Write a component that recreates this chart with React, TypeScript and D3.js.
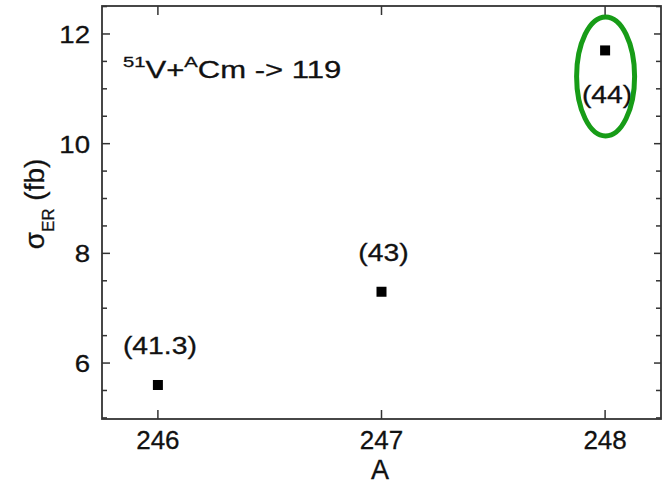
import React from "react";
import * as d3 from "d3";

// values
const massNumbers = [246, 247, 248];
const crossSections = [5.6, 7.3, 11.7];
const energyLabels = ["(41.3)", "(43)", "(44)"];
const labelSide = ["above", "above", "below"];
const xTicks = [246, 247, 248];
const yTicks = [6, 8, 10, 12];

const width = 666;
const height = 485;
const left = 102;
const right = 661;
const top = 6;
const bottom = 419;
const font = "'Liberation Sans', Arial, Helvetica, sans-serif";
const frameColor = "#333";
const ink = "#111";

const x = d3.scaleLinear().domain([245.75, 248.25]).range([left, right]);
const y = d3.scaleLinear().domain([4.98, 12.51]).range([bottom, top]);

const minorY = d3.range(5, 12.51, 0.5).filter((v) => !yTicks.includes(v));

const App = () => {
  return (
    <svg
      width={width}
      height={height}
      style={{ position: "absolute", left: 0, top: 0, background: "#fff" }}
      fontFamily={font}
    >
      <rect x={0} y={0} width={width} height={height} fill="#fff" />

      {/* frame */}
      <rect
        x={left}
        y={top}
        width={right - left}
        height={bottom - top}
        fill="none"
        stroke={frameColor}
        strokeWidth={1.8}
      />

      {/* x ticks bottom and top */}
      {xTicks.map((t) => (
        <g key={"x" + t}>
          <line x1={x(t)} x2={x(t)} y1={bottom} y2={bottom - 9} stroke={frameColor} strokeWidth={1.5} />
          <line x1={x(t)} x2={x(t)} y1={top} y2={top + 9} stroke={frameColor} strokeWidth={1.5} />
          <text
            x={x(t)}
            y={bottom + 30}
            textAnchor="middle"
            fontSize={26}
            fill={ink}
            stroke={ink}
            strokeWidth={0.3}
          >
            {t}
          </text>
        </g>
      ))}

      {/* y ticks left and right */}
      {yTicks.map((t) => (
        <g key={"y" + t}>
          <line x1={left} x2={left + 8} y1={y(t)} y2={y(t)} stroke={frameColor} strokeWidth={1.5} />
          <line x1={right} x2={right - 7} y1={y(t)} y2={y(t)} stroke={frameColor} strokeWidth={1.5} />
          <text
            transform={`translate(${left - 12},${y(t) + 9}) scale(1.15,1)`}
            textAnchor="end"
            fontSize={24}
            fill={ink}
            stroke={ink}
            strokeWidth={0.3}
          >
            {t}
          </text>
        </g>
      ))}
      {minorY.map((t) => (
        <g key={"m" + t}>
          <line x1={left} x2={left + 5} y1={y(t)} y2={y(t)} stroke={frameColor} strokeWidth={1.5} />
          <line x1={right} x2={right - 5} y1={y(t)} y2={y(t)} stroke={frameColor} strokeWidth={1.5} />
        </g>
      ))}

      {/* axis titles */}
      <text x={380} y={479} textAnchor="middle" fontSize={27} fill={ink} stroke={ink} strokeWidth={0.3}>
        A
      </text>
      <text
        transform="translate(44,204) rotate(-90)"
        textAnchor="middle"
        fontSize={28}
        fill={ink}
        stroke={ink}
        strokeWidth={0.3}
      >
        σ
        <tspan fontSize={17} dy={10}>
          ER
        </tspan>
        <tspan dy={-10}> (fb)</tspan>
      </text>

      {/* reaction title */}
      <text
        transform="translate(123,78) scale(1.35,1)"
        fontSize={23}
        fill={ink}
        stroke={ink}
        strokeWidth={0.3}
      >
        <tspan fontSize={15} dy={-11}>
          51
        </tspan>
        <tspan dy={11}>V+</tspan>
        <tspan fontSize={15} dy={-11}>
          A
        </tspan>
        <tspan dy={11}>Cm -&gt; 119</tspan>
      </text>

      {/* points */}
      {massNumbers.map((m, i) => (
        <rect
          key={"p" + m}
          x={x(m) - 5}
          y={y(crossSections[i]) - 5}
          width={10}
          height={10}
          fill="#000"
        />
      ))}

      {/* energy labels */}
      {massNumbers.map((m, i) => (
        <text
          key={"l" + m}
          transform={`translate(${x(m) + 2},${
            y(crossSections[i]) + (labelSide[i] === "above" ? -31 : 53)
          }) scale(1.18,1)`}
          textAnchor="middle"
          fontSize={24}
          fill={ink}
          stroke={ink}
          strokeWidth={0.3}
        >
          {energyLabels[i]}
        </text>
      ))}

      {/* highlight of the last point */}
      <ellipse
        cx={x(massNumbers[2]) + 0.5}
        cy={y(crossSections[2]) + 26}
        rx={29}
        ry={59.5}
        fill="none"
        stroke="#179c17"
        strokeWidth={5}
      />
    </svg>
  );
};

export default App;
